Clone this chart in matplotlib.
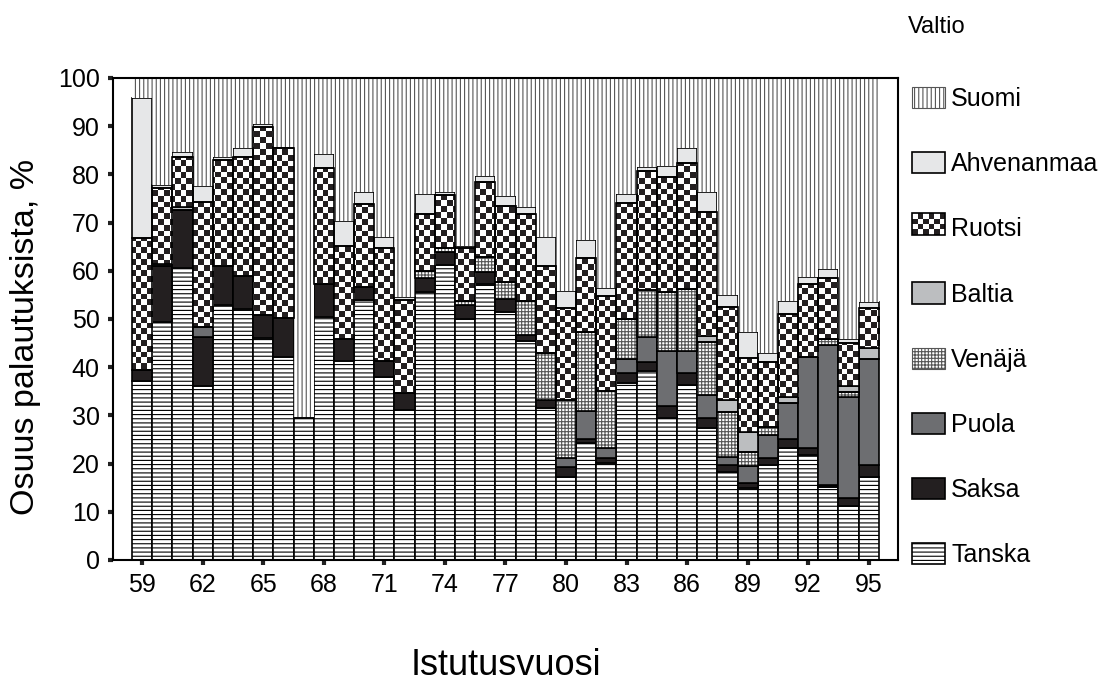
import numpy as np
import matplotlib
matplotlib.use('Agg')
import matplotlib.pyplot as plt
from matplotlib.patches import Patch, Rectangle
from matplotlib.colors import ListedColormap

plt.rcParams['font.family'] = ['Liberation Sans', 'DejaVu Sans']
plt.rcParams['hatch.linewidth'] = 0.8

# istutusvuodet 1959-1995
years = list(range(59, 96))

# osuudet (%) maittain, alhaalta ylös
tanska = [37.2, 49.3, 60.5, 36.0, 52.9, 52.1, 46.0, 42.2, 29.4, 50.5, 41.3, 53.9, 38.0,
          31.1, 55.5, 61.2, 50.1, 57.3, 51.4, 45.4, 31.5, 17.3, 24.3, 20.2, 36.8, 39.2,
          29.4, 36.3, 27.3, 18.2, 14.9, 19.8, 23.2, 21.8, 15.2, 11.1, 17.3]
saksa = [2.2, 11.7, 12.1, 10.3, 8.1, 6.8, 4.8, 8.1, 0.0, 6.8, 4.5, 2.8, 3.3,
         3.5, 2.9, 2.7, 2.7, 2.5, 2.7, 1.3, 1.6, 1.9, 0.9, 0.9, 1.9, 1.9,
         2.5, 2.4, 2.1, 1.5, 1.0, 1.3, 2.0, 1.4, 0.4, 1.7, 2.5]
puola = [0.0, 0.0, 0.0, 2.1, 0.0, 0.0, 0.0, 0.0, 0.0, 0.0, 0.0, 0.0, 0.0,
         0.0, 0.0, 0.0, 0.0, 0.0, 0.0, 0.0, 0.0, 1.9, 5.7, 2.1, 3.0, 5.2,
         11.5, 4.7, 4.8, 1.7, 3.5, 4.8, 7.3, 19.0, 29.1, 21.1, 22.0]
venaja = [0.0, 0.0, 0.0, 0.0, 0.0, 0.0, 0.0, 0.0, 0.0, 0.0, 0.0, 0.0, 0.0,
          0.0, 1.6, 0.8, 1.0, 3.1, 3.6, 7.1, 9.9, 12.0, 16.3, 11.9, 8.4, 9.7,
          12.1, 12.8, 11.1, 9.4, 3.1, 1.6, 0.0, 0.0, 1.1, 1.0, 0.0]
baltia = [0.0, 0.5, 0.7, 0.0, 0.0, 0.0, 0.0, 0.0, 0.0, 0.0, 0.0, 0.0, 0.0,
          0.0, 0.0, 0.0, 0.0, 0.0, 0.0, 0.0, 0.0, 0.0, 0.0, 0.0, 0.0, 0.0,
          0.0, 0.0, 1.2, 2.3, 4.0, 0.0, 1.4, 0.0, 0.0, 1.1, 2.1]
ruotsi = [27.3, 15.7, 10.4, 25.9, 22.0, 24.8, 39.1, 35.1, 0.0, 24.0, 19.3, 17.2, 23.5,
          19.3, 11.8, 11.0, 10.9, 15.6, 15.7, 18.0, 17.9, 19.1, 15.4, 19.7, 23.9, 24.6,
          23.9, 26.1, 25.6, 19.3, 15.5, 13.6, 17.1, 15.1, 12.6, 9.1, 8.3]
ahvenanmaa = [29.1, 0.7, 0.9, 3.3, 0.7, 1.7, 0.5, 0.2, 0.0, 2.9, 5.3, 2.4, 2.3,
              0.7, 4.1, 0.6, 0.4, 1.2, 2.1, 1.5, 6.2, 3.7, 3.7, 1.6, 1.9, 0.9,
              2.3, 3.1, 4.2, 2.6, 5.2, 1.9, 2.8, 1.5, 2.0, 0.7, 1.3]
suomi = [4.2, 22.1, 15.4, 22.4, 16.3, 14.6, 9.6, 14.4, 70.6, 15.8, 29.6, 23.7, 32.9,
         45.4, 24.1, 23.7, 34.9, 20.3, 24.5, 26.7, 32.9, 44.1, 33.7, 43.6, 24.1, 18.5,
         18.3, 14.6, 23.7, 45.0, 52.8, 57.0, 46.2, 41.2, 39.6, 54.2, 46.5]

tick_years = [59, 62, 65, 68, 71, 74, 77, 80, 83, 86, 89, 92, 95]

dark = '#231f20'
lw = 1.2
styles = {
    'Tanska': dict(facecolor='white', edgecolor='black', hatch='----', linewidth=lw),
    'Saksa': dict(facecolor=dark, edgecolor='black', linewidth=lw),
    'Puola': dict(facecolor='#6d6e71', edgecolor='black', linewidth=lw),
    'Venäjä': dict(facecolor='white', edgecolor='#555555', hatch='+++++', linewidth=0),
    'Baltia': dict(facecolor='#bcbec0', edgecolor='black', linewidth=lw),
    'Ruotsi': dict(facecolor='none', edgecolor='black', linewidth=lw),
    'Ahvenanmaa': dict(facecolor='#e6e7e8', edgecolor='black', linewidth=lw),
    'Suomi': dict(facecolor='white', edgecolor='#555555', hatch='||||', linewidth=0),
}
order = [('Tanska', tanska), ('Saksa', saksa), ('Puola', puola), ('Venäjä', venaja),
         ('Baltia', baltia), ('Ruotsi', ruotsi), ('Ahvenanmaa', ahvenanmaa), ('Suomi', suomi)]

fig = plt.figure(figsize=(11.14, 6.84), dpi=100)
ax = fig.add_axes([0.1014, 0.1813, 0.7047, 0.7047])

xlim = (57.55, 96.45)
# ruutukuvio Ruotsille
nx, ny = 139, 83
checker = np.add.outer(np.arange(ny), np.arange(nx)) % 2
checker_cmap = ListedColormap([dark, 'white'])

bottom = np.zeros(len(years))
for name, vals in order:
    vals = np.array(vals)
    if name == 'Ruotsi':
        rects = ax.bar(years, vals, 1.0, bottom=bottom, zorder=3, **styles[name])
        for r in rects:
            if r.get_height() <= 0:
                continue
            im = ax.imshow(checker, extent=(xlim[0], xlim[0] + nx * 0.28, 0, ny * 1.2),
                           origin='lower', cmap=checker_cmap, interpolation='nearest',
                           aspect='auto', zorder=2)
            im.set_clip_path(r)
    elif name == 'Venäjä':
        ax.bar(years, vals, 1.0, bottom=bottom, zorder=2, **styles[name])
        ax.bar(years, vals, 1.0, bottom=bottom, zorder=3, facecolor='none',
               edgecolor='black', linewidth=lw)
    else:
        ax.bar(years, vals, 1.0, bottom=bottom, zorder=2, **styles[name])
    bottom = bottom + vals

ax.set_xlim(*xlim)
ax.set_ylim(0, 100)
ax.set_xticks(tick_years)
ax.set_xticklabels([str(y) for y in tick_years])
ax.set_yticks(range(0, 101, 10))
ax.tick_params(direction='out', length=3.5, width=3, color='#222222',
               labelsize=18, pad=6)
for s in ax.spines.values():
    s.set_linewidth(1.5)
    s.set_zorder(4)

ax.set_ylabel('Osuus palautuksista, %', fontsize=24.5)
ax.yaxis.set_label_coords(-0.092, 0.463)
ax.set_xlabel('Istutusvuosi', fontsize=26)
ax.xaxis.set_label_coords(0.5, -0.183)


class CheckerHandler:
    def legend_artist(self, legend, orig_handle, fontsize, handlebox):
        x0, y0 = handlebox.xdescent, handlebox.ydescent
        w, h = handlebox.width, handlebox.height
        cx, cy = 6, 4
        for i in range(cy):
            for j in range(cx):
                if (i + j) % 2 == 0:
                    handlebox.add_artist(Rectangle((x0 + j * w / cx, y0 + i * h / cy), w / cx, h / cy,
                                                   facecolor=dark, edgecolor='none',
                                                   transform=handlebox.get_transform()))
        border = Rectangle((x0, y0), w, h, facecolor='none', edgecolor='black', linewidth=lw,
                           transform=handlebox.get_transform())
        handlebox.add_artist(border)
        return border


handles = []
labels = []
handler_map = {}
for name, vals in order[::-1]:
    st = dict(styles[name])
    if name in ('Suomi', 'Venäjä'):
        st['linewidth'] = 0.8
    h = Patch(**st)
    if name == 'Ruotsi':
        handler_map[h] = CheckerHandler()
    handles.append(h)
    labels.append(name)

fig.legend(handles, labels, loc='upper left', bbox_to_anchor=(912 / 1114, 1 - 87 / 684),
           frameon=False, fontsize=18, handlelength=1.32, handleheight=0.92,
           handletextpad=0.24, labelspacing=1.64, borderpad=0, borderaxespad=0,
           handler_map=handler_map)
fig.text(908 / 1114, 1 - 27 / 684, 'Valtio', fontsize=17, ha='left', va='center')

fig.savefig('out.png', dpi=100)
